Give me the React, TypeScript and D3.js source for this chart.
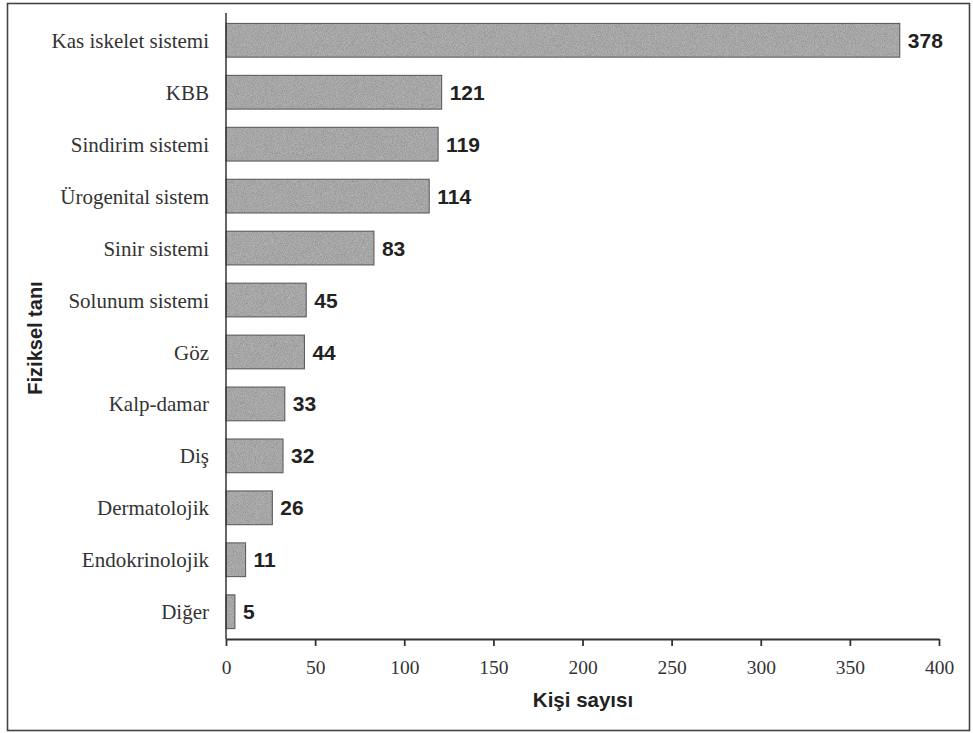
import { useEffect, useRef } from 'react';
import * as d3 from 'd3';

const categories = [
  'Kas iskelet sistemi',
  'KBB',
  'Sindirim sistemi',
  'Ürogenital sistem',
  'Sinir sistemi',
  'Solunum sistemi',
  'Göz',
  'Kalp-damar',
  'Diş',
  'Dermatolojik',
  'Endokrinolojik',
  'Diğer',
];
const values = [378, 121, 119, 114, 83, 45, 44, 33, 32, 26, 11, 5];
const xTicks = [0, 50, 100, 150, 200, 250, 300, 350, 400];

const W = 973;
const H = 733;

export default function App() {
  const svgRef = useRef<SVGSVGElement>(null);

  useEffect(() => {
    if (!svgRef.current) return;
    const svg = d3.select(svgRef.current);
    svg.selectAll('*').remove();

    const left = 226;
    const right = 939;
    const top = 13;
    const bottom = 639;

    const x = d3.scaleLinear().domain([0, 400]).range([left, right]);
    const y = d3.scaleBand<string>().domain(categories).range([top, bottom]).paddingInner(0.35).paddingOuter(0.2);

    // speckled grain, like the halftone of the scan
    const defs = svg.append('defs');
    const grain = defs.append('filter')
      .attr('id', 'grain')
      .attr('x', 0).attr('y', 0).attr('width', 1).attr('height', 1);
    grain.append('feTurbulence')
      .attr('type', 'fractalNoise')
      .attr('baseFrequency', 1.1)
      .attr('numOctaves', 2)
      .attr('seed', 3)
      .attr('result', 'noise');
    grain.append('feColorMatrix')
      .attr('in', 'noise')
      .attr('type', 'matrix')
      .attr('values', '0 0 0 0 0.25  0 0 0 0 0.25  0 0 0 0 0.25  1.6 0 0 0 -0.55')
      .attr('result', 'specks');
    grain.append('feComposite')
      .attr('in', 'specks')
      .attr('in2', 'SourceGraphic')
      .attr('operator', 'in');

    svg.append('rect')
      .attr('x', 0).attr('y', 0).attr('width', W).attr('height', H)
      .attr('fill', '#ffffff');

    // outer frame
    svg.append('rect')
      .attr('x', 7.5).attr('y', 3.5).attr('width', 962).attr('height', 727)
      .attr('fill', 'none')
      .attr('stroke', '#444')
      .attr('stroke-width', 1.6);

    const bars = svg.append('g');
    bars.selectAll('rect.bar')
      .data(values)
      .enter()
      .append('rect')
      .attr('class', 'bar')
      .attr('x', x(0))
      .attr('y', (d, i) => y(categories[i]) as number)
      .attr('width', d => x(d) - x(0))
      .attr('height', y.bandwidth())
      .attr('fill', '#b0b0b0');
    bars.selectAll('rect.grain')
      .data(values)
      .enter()
      .append('rect')
      .attr('class', 'grain')
      .attr('x', x(0))
      .attr('y', (d, i) => y(categories[i]) as number)
      .attr('width', d => x(d) - x(0))
      .attr('height', y.bandwidth())
      .attr('fill', '#000')
      .attr('filter', 'url(#grain)');
    bars.selectAll('rect.edge')
      .data(values)
      .enter()
      .append('rect')
      .attr('class', 'edge')
      .attr('x', x(0))
      .attr('y', (d, i) => y(categories[i]) as number)
      .attr('width', d => x(d) - x(0))
      .attr('height', y.bandwidth())
      .attr('fill', 'none')
      .attr('stroke', '#555')
      .attr('stroke-width', 1);

    svg.append('g')
      .selectAll('text')
      .data(values)
      .enter()
      .append('text')
      .attr('x', d => x(d) + 8)
      .attr('y', (d, i) => (y(categories[i]) as number) + y.bandwidth() / 2)
      .attr('dy', '0.36em')
      .attr('font-family', 'Liberation Sans, Arial, sans-serif')
      .attr('font-weight', 'bold')
      .attr('font-size', 21)
      .attr('fill', '#222')
      .text(d => d);

    // category labels
    svg.append('g')
      .selectAll('text')
      .data(categories)
      .enter()
      .append('text')
      .attr('x', left - 17)
      .attr('y', d => (y(d) as number) + y.bandwidth() / 2)
      .attr('dy', '0.36em')
      .attr('text-anchor', 'end')
      .attr('font-family', 'Liberation Serif, Times New Roman, serif')
      .attr('font-size', 21)
      .attr('fill', '#333')
      .text(d => d);

    // axes
    svg.append('line')
      .attr('x1', left).attr('x2', left)
      .attr('y1', top).attr('y2', bottom)
      .attr('stroke', '#333').attr('stroke-width', 1.5);

    const xAxis = svg.append('g')
      .attr('transform', `translate(0,${bottom})`)
      .call(d3.axisBottom(x).tickValues(xTicks).tickSize(7).tickPadding(14).tickSizeOuter(0));
    xAxis.select('.domain').attr('stroke', '#333').attr('stroke-width', 1.8);
    xAxis.selectAll('.tick line').attr('stroke', '#333').attr('stroke-width', 1.8);
    xAxis.selectAll('.tick text')
      .attr('font-family', 'Liberation Serif, Times New Roman, serif')
      .attr('font-size', 19.5)
      .attr('fill', '#333');

    svg.append('text')
      .attr('x', 583)
      .attr('y', 707)
      .attr('text-anchor', 'middle')
      .attr('font-family', 'Liberation Sans, Arial, sans-serif')
      .attr('font-weight', 'bold')
      .attr('font-size', 20.5)
      .attr('fill', '#222')
      .text('Kişi sayısı');

    svg.append('text')
      .attr('transform', `translate(42,${338}) rotate(-90)`)
      .attr('text-anchor', 'middle')
      .attr('font-family', 'Liberation Sans, Arial, sans-serif')
      .attr('font-weight', 'bold')
      .attr('font-size', 20)
      .attr('fill', '#222')
      .text('Fiziksel tanı');
  }, []);

  return (
    <div style={{ position: 'absolute', left: 0, top: 0, width: W, height: H, background: '#fff' }}>
      <svg ref={svgRef} width={W} height={H} />
    </div>
  );
}
